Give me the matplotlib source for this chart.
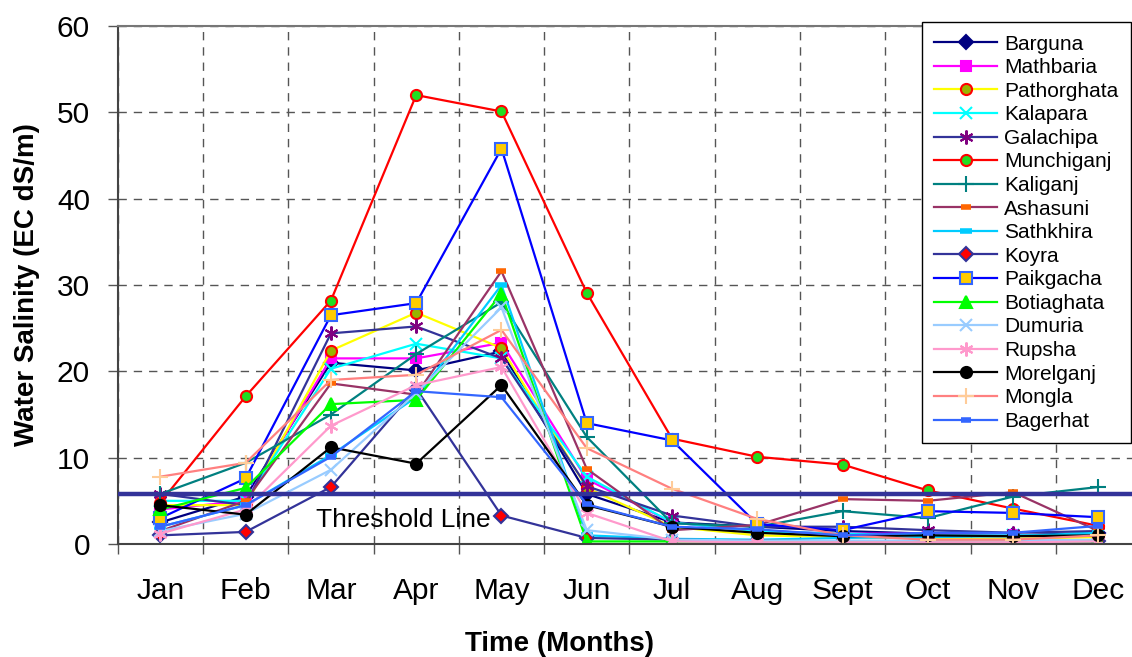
import matplotlib
matplotlib.use("Agg")
from matplotlib import pyplot as plt
from matplotlib.ticker import FixedLocator

plt.rcParams['font.family'] = ['Liberation Sans', 'DejaVu Sans']

months = ['Jan', 'Feb', 'Mar', 'Apr', 'May', 'Jun', 'Jul', 'Aug', 'Sept', 'Oct', 'Nov', 'Dec']

barguna = [2.5, 5.5, 21.0, 20.1, 22.3, 5.8, 2.5, 2.0, 1.5, 1.2, 1.0, 1.3]
mathbaria = [4.0, 5.0, 21.5, 21.5, 23.3, 7.5, 2.5, 1.5, 1.2, 1.2, 1.0, 1.0]
pathorghata = [4.5, 4.5, 22.4, 26.8, 22.7, 6.5, 2.0, 1.0, 0.8, 0.7, 0.6, 0.8]
kalapara = [5.0, 5.0, 20.3, 23.2, 21.5, 7.8, 2.5, 1.5, 1.2, 1.0, 1.0, 1.0]
galachipa = [5.8, 4.5, 24.4, 25.2, 21.5, 6.7, 3.3, 2.0, 2.0, 1.6, 1.3, 1.5]
munchiganj = [4.8, 17.1, 28.2, 52.0, 50.1, 29.1, 12.2, 10.1, 9.2, 6.2, 4.1, 2.1]
kaliganj = [5.8, 9.4, 15.0, 22.0, 28.0, 12.4, 2.4, 2.0, 3.8, 3.0, 5.5, 6.6]
ashasuni = [1.5, 5.0, 18.6, 17.3, 31.6, 8.7, 1.6, 2.2, 5.2, 5.0, 6.0, 1.5]
sathkhira = [2.0, 4.5, 10.3, 17.0, 30.0, 1.0, 0.6, 0.5, 0.7, 0.8, 0.9, 1.3]
koyra = [1.0, 1.4, 6.6, 18.0, 3.3, 0.7, 0.5, 0.4, 0.3, 0.3, 0.3, 0.3]
paikgacha = [3.0, 7.6, 26.5, 27.9, 45.8, 14.0, 12.0, 2.3, 1.6, 3.8, 3.6, 3.1]
botiaghata = [4.0, 6.5, 16.2, 16.7, 29.0, 0.3, 0.3, 0.3, 0.3, 0.3, 0.3, 0.3]
dumuria = [1.5, 3.5, 8.6, 17.5, 27.4, 1.6, 0.5, 0.4, 0.4, 0.4, 0.4, 0.5]
rupsha = [1.2, 4.0, 13.7, 18.4, 20.5, 3.6, 0.3, 0.2, 0.2, 0.2, 0.2, 0.3]
morelganj = [4.5, 3.4, 11.2, 9.3, 18.4, 4.5, 2.0, 1.3, 0.9, 1.0, 0.9, 1.0]
mongla = [7.8, 9.4, 19.0, 19.6, 24.8, 11.1, 6.4, 2.9, 1.0, 0.5, 0.5, 1.0]
bagerhat = [2.0, 4.5, 10.1, 17.7, 17.0, 4.6, 2.0, 1.7, 1.0, 1.3, 1.3, 2.1]

threshold = 5.8

asterisk = (6, 2, 0)

# name, values, line colour, marker, face colour, edge colour, marker size
series = [
    ('Barguna', barguna, '#000080', 'D', '#000080', '#000080', 7),
    ('Mathbaria', mathbaria, '#FF00FF', 's', '#FF00FF', '#FF00FF', 7),
    ('Pathorghata', pathorghata, '#FFFF00', 'o', '#99B400', '#FF0000', 8),
    ('Kalapara', kalapara, '#00FFFF', 'x', '#00FFFF', '#00FFFF', 9),
    ('Galachipa', galachipa, '#333399', asterisk, '#800080', '#800080', 10),
    ('Munchiganj', munchiganj, '#FF0000', 'o', '#22DD22', '#FF0000', 8),
    ('Kaliganj', kaliganj, '#008080', '+', '#008080', '#008080', 11),
    ('Ashasuni', ashasuni, '#993366', '_', '#FF6600', '#FF6600', 7),
    ('Sathkhira', sathkhira, '#00CCFF', '_', '#00CCFF', '#00CCFF', 8),
    ('Koyra', koyra, '#333399', 'D', '#FF0000', '#333399', 7),
    ('Paikgacha', paikgacha, '#0000FF', 's', '#FFCC00', '#3366FF', 8),
    ('Botiaghata', botiaghata, '#00FF00', '^', '#00FF00', '#00FF00', 9),
    ('Dumuria', dumuria, '#99CCFF', 'x', '#99CCFF', '#99CCFF', 9),
    ('Rupsha', rupsha, '#FF99CC', asterisk, '#FF99CC', '#FF99CC', 10),
    ('Morelganj', morelganj, '#000000', 'o', '#000000', '#000000', 8),
    ('Mongla', mongla, '#FF8080', '+', '#FFCC99', '#FFCC99', 11),
    ('Bagerhat', bagerhat, '#3366FF', '_', '#3366FF', '#3366FF', 7),
]

fig = plt.figure(figsize=(11.32, 6.57), dpi=100)
ax = fig.add_axes([0.104, 0.172, 0.904, 0.7884])

x = range(len(months))
for name, vals, lc, mk, fc, ec, ms in series:
    mew = 1.5
    if mk == '_':
        mew = 4
    ax.plot(x, vals, label=name, color=lc, linewidth=1.6, marker=mk,
            markerfacecolor=fc, markeredgecolor=ec, markersize=ms,
            markeredgewidth=mew)

# threshold line
ax.axhline(threshold, color='#333399', linewidth=3.2, zorder=5)
ax.text(1.82, 2.8, 'Threshold Line', fontsize=19, ha='left', va='center')

ax.set_xlim(-0.5, 11.5)
ax.set_ylim(0, 60)

ax.set_xticks(list(x))
ax.set_xticklabels(months, fontsize=21.5)
ax.xaxis.set_minor_locator(FixedLocator([i + 0.5 for i in range(-1, 12)]))
ax.tick_params(axis='x', which='major', length=0, pad=24)
ax.tick_params(axis='x', which='minor', length=7, width=1, color='#555555')

ax.set_yticks(range(0, 61, 10))
ax.tick_params(axis='y', labelsize=21.5, length=7, width=1, color='#555555', pad=13)

ax.grid(axis='y', which='major', linestyle=(0, (6, 5)), color='#555555', linewidth=1)
ax.grid(axis='x', which='minor', linestyle=(0, (6, 5)), color='#555555', linewidth=1)

ax.spines['left'].set_color('#444444')
ax.spines['left'].set_linewidth(1.5)
ax.spines['bottom'].set_color('#444444')
ax.spines['bottom'].set_linewidth(1.5)
ax.spines['top'].set_color('#777777')
ax.spines['top'].set_linewidth(1.5)
ax.spines['right'].set_visible(False)

ax.set_xlabel('Time (Months)', fontsize=20, fontweight='bold')
ax.xaxis.set_label_coords(0.432, -0.168)
ax.set_ylabel('Water Salinity (EC dS/m)', fontsize=20, fontweight='bold', labelpad=12)

leg = ax.legend(loc='upper right', bbox_to_anchor=(1131 / 1132, 1 - 22 / 657),
                bbox_transform=fig.transFigure, borderaxespad=0, fontsize=15,
                labelspacing=0.22, handlelength=3.0, handletextpad=0.35,
                borderpad=0.6, fancybox=False, framealpha=1, edgecolor='black')
leg.get_frame().set_linewidth(1)
leg.set_zorder(10)

plt.savefig('out.png', dpi=100)
